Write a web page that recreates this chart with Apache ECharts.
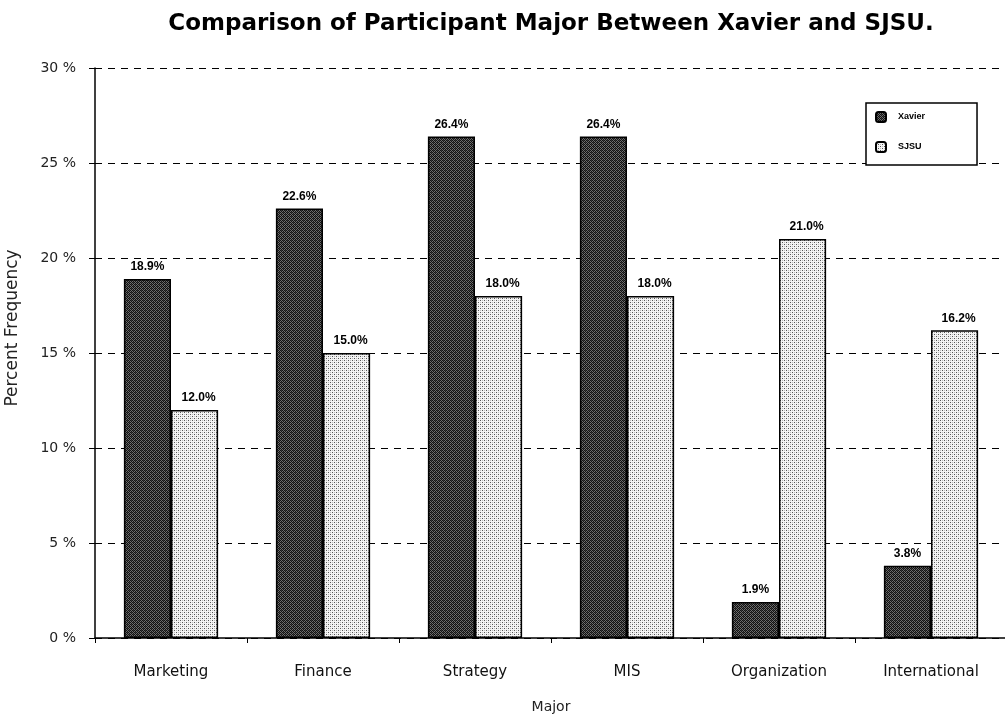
<!DOCTYPE html>
<html><head><meta charset="utf-8">
<script src="https://cdn.jsdelivr.net/npm/echarts@6/dist/echarts.min.js"></script>
<style>html,body{margin:0;padding:0;background:#fff}#c{width:1005px;height:714px}</style>
</head><body><div id="c"></div>
<script>
var categories = ['Marketing','Finance','Strategy','MIS','Organization','International'];
var xavier = [18.9, 22.6, 26.4, 26.4, 1.9, 3.8];
var sjsu = [12.0, 15.0, 18.0, 18.0, 21.0, 16.2];
var yTicks = [0, 5, 10, 15, 20, 25, 30];

function pattern(kind){
  var c = document.createElement('canvas');
  c.width = 4; c.height = 4;
  var g = c.getContext('2d');
  if(kind === 'dark'){
    g.fillStyle = '#6e6e6e'; g.fillRect(0,0,4,4);
    g.fillStyle = '#111';
    for(var y=0;y<4;y++)for(var x=0;x<4;x++){ if((x+y)%2===0) g.fillRect(x,y,1,1); }
    g.fillStyle = '#3a3a3a'; g.fillRect(1,2,1,1); g.fillRect(3,0,1,1);
  } else {
    g.fillStyle = '#f4f4f4'; g.fillRect(0,0,4,4);
    g.fillStyle = '#555';
    g.fillRect(0,0,1,1); g.fillRect(2,2,1,1);
    g.fillStyle = '#bbb';
    g.fillRect(2,0,1,1); g.fillRect(0,2,1,1);
  }
  return {image: c, repeat: 'repeat'};
}

var chart = echarts.init(document.getElementById('c'));
var labelStyle = {show:true, position:'top', distance:6, color:'#000', fontFamily:'Arial', fontWeight:'bold', fontSize:12, formatter: function(p){return p.value.toFixed(1)+'%';}};
chart.setOption({
  animation:false,
  backgroundColor:'#fff',
  title:{text:'Comparison of Participant Major Between Xavier and SJSU.', left:546, textAlign:'center', top:8,
    textStyle:{fontFamily:'DejaVu Sans', fontWeight:'bold', fontSize:23, color:'#000'}},
  legend:{orient:'vertical', left:866, top:103, itemWidth:10, itemHeight:10, itemGap:18,
    padding:[8,52,12,9], borderColor:'#000', borderWidth:1.5, backgroundColor:'#fff',
    textStyle:{fontFamily:'Arial', fontWeight:'bold', fontSize:9, color:'#000', padding:[0,0,0,7]},
    data:['Xavier','SJSU']},
  grid:{left:95, right:-2, top:68, bottom:76, outerBoundsMode:'none', containLabel:false},
  xAxis:{type:'category', data:categories,
    name:'Major', nameLocation:'middle', nameGap:62,
    nameTextStyle:{fontFamily:'DejaVu Sans', fontSize:14, color:'#222'},
    axisLine:{lineStyle:{color:'#000', width:1.5}},
    axisTick:{show:true, length:5, lineStyle:{color:'#000'}},
    axisLabel:{margin:27, fontFamily:'DejaVu Sans', fontSize:15, color:'#111'}},
  yAxis:{type:'value', min:0, max:30, interval:5,
    name:'Percent Frequency', nameLocation:'middle', nameGap:74,
    nameTextStyle:{fontFamily:'DejaVu Sans', fontSize:17, color:'#222', padding:[0,0,0,50]},
    axisLine:{show:true, lineStyle:{color:'#000', width:1.5}},
    axisTick:{show:true, length:6, lineStyle:{color:'#000'}},
    axisLabel:{margin:19, fontFamily:'DejaVu Sans', fontSize:14, color:'#222', formatter: function(v){ return yTicks.indexOf(v)>=0 ? v+' %' : ''; }},
    splitLine:{show:true, lineStyle:{color:'#000', type:[7,6], width:1.2}}},
  series:[
    {name:'Xavier', type:'bar', data:xavier, barGap:'0%', barCategoryGap:'38%',
      itemStyle:{color:pattern('dark'), borderColor:'#000', borderWidth:1.5},
      label:labelStyle},
    {name:'SJSU', type:'bar', data:sjsu,
      itemStyle:{color:pattern('light'), borderColor:'#000', borderWidth:1.5},
      label:Object.assign({}, labelStyle, {offset:[4,0]})}
  ]
});
</script></body></html>
